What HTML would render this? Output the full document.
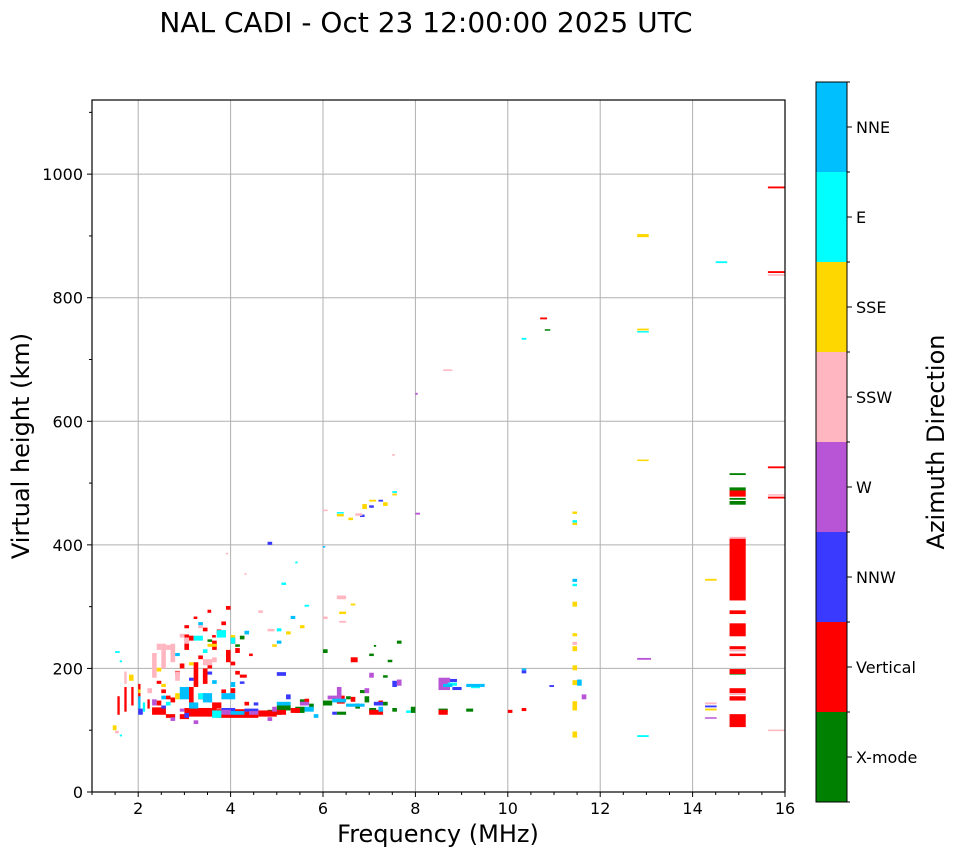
<!DOCTYPE html>
<html><head><meta charset="utf-8">
<style>
html,body{margin:0;padding:0;background:#fff;}
svg{display:block;font-family:"DejaVu Sans","Liberation Sans",sans-serif;}
</style></head>
<body>
<svg id="chart" width="958" height="857" viewBox="0 0 958 857" xmlns="http://www.w3.org/2000/svg">
<text x="426" y="32" font-size="28" text-anchor="middle">NAL CADI - Oct 23 12:00:00 2025 UTC</text>
<g id="grid"></g>
<g id="marks"></g>
<rect x="92" y="100" width="693" height="692" fill="none" stroke="#000" stroke-width="1.2"/>
<g id="axes"></g>
<text x="438" y="842" font-size="24" text-anchor="middle">Frequency (MHz)</text>
<text x="0" y="0" font-size="24" text-anchor="middle" transform="translate(29,446) rotate(-90)">Virtual height (km)</text>
<g id="cbar"></g>
<text x="0" y="0" font-size="24" text-anchor="middle" transform="translate(944,442) rotate(-90)">Azimuth Direction</text>
</svg>
<script>
const xTicks = [2,4,6,8,10,12,14,16];
const yTicks = [0,200,400,600,800,1000];
const directions = ["X-mode","Vertical","NNW","W","SSW","SSE","E","NNE"];
const dirColors = ["#008000","#ff0000","#3a3aff","#b855d6","#ffb6c1","#ffd700","#00ffff","#00bfff"];
// points: [freq MHz, height km, freqSpan MHz, heightSpan km]
const xmodePts = [[4.8,125,0.3,8],[5.0,132,0.3,8],[5.4,128,0.2,10],[5.7,135,0.1,8],[6.0,140,0.2,8],[6.3,125,0.2,5],[6.7,135,0.1,8],[6.9,145,0.1,10],[7.0,128,0.15,8],[7.3,140,0.1,6],[7.5,130,0.1,6],[7.9,128,0.1,10],[8.5,130,0.2,5],[9.1,130,0.15,5],[6.0,225,0.1,6],[7.1,235,0.05,3],[7.6,240,0.1,5],[7.0,220,0.1,4],[7.4,210,0.1,4],[7.3,185,0.1,4],[10.8,747,0.12,2],[4.2,247,0.1,6],[3.5,243,0.1,4],[14.8,513,0.35,3],[14.8,488,0.35,5],[14.8,473,0.35,3],[14.8,465,0.35,6],[14.8,190,0.35,3],[5.5,145,0.1,5],[6.5,150,0.1,5],[4.1,235,0.1,4],[6.8,160,0.1,5]];
const verticalPts = [[2.3,125,0.3,12],[2.4,140,0.1,8],[2.6,150,0.1,6],[2.9,118,0.2,8],[3.0,122,0.7,14],[3.1,140,0.1,30],[3.4,175,0.1,25],[3.7,120,0.9,14],[3.6,135,0.2,10],[4.0,160,0.1,8],[4.1,190,0.1,6],[4.6,122,0.4,10],[5.0,125,0.2,8],[5.3,128,0.2,8],[6.3,143,0.17,13],[6.6,146,0.1,8],[7.0,125,0.3,8],[7.2,140,0.1,8],[1.55,125,0.05,30],[1.7,130,0.05,40],[1.85,140,0.05,30],[2.0,150,0.05,25],[2.2,135,0.05,15],[2.9,200,0.1,8],[3.0,230,0.1,25],[3.1,245,0.1,8],[3.2,170,0.1,40],[3.3,215,0.1,6],[3.4,260,0.1,6],[3.5,200,0.1,6],[3.6,230,0.1,15],[3.7,255,0.1,8],[3.8,270,0.1,6],[3.9,210,0.1,20],[4.0,240,0.1,10],[4.1,225,0.1,8],[3.9,295,0.1,6],[3.5,290,0.08,5],[4.2,185,0.15,5],[2.8,190,0.1,6],[3.0,265,0.1,5],[6.6,210,0.15,8],[8.5,125,0.2,8],[10.0,128,0.1,5],[10.3,131,0.1,5],[10.7,765,0.15,3],[14.8,310,0.35,100],[14.8,288,0.35,6],[14.8,252,0.35,21],[14.8,231,0.35,5],[14.8,220,0.35,4],[14.8,191,0.35,8],[14.8,160,0.35,8],[14.8,148,0.35,7],[14.8,105,0.35,21],[14.8,478,0.35,10],[15.63,977,0.37,3],[15.63,840,0.37,3],[15.63,524,0.37,3],[15.63,475,0.37,3],[2.5,160,0.1,6],[2.7,145,0.1,8],[3.3,150,0.1,8],[3.8,160,0.1,6],[4.3,140,0.1,6],[2.6,120,0.2,6],[3.2,280,0.08,4],[3.6,250,0.08,4],[4.4,220,0.08,4],[5.6,145,0.1,6],[4.0,205,0.1,6],[2.4,175,0.1,5]];
const nnwPts = [[4.8,400,0.1,5],[7.0,460,0.1,4],[7.2,470,0.1,3],[6.8,445,0.1,4],[8.7,178,0.2,5],[8.8,165,0.2,5],[10.3,192,0.1,5],[10.9,170,0.1,3],[14.27,137,0.25,3],[3.0,120,0.1,8],[3.8,130,0.3,6],[4.3,130,0.3,5],[5.0,188,0.2,6],[5.2,150,0.1,8],[6.2,125,0.1,5],[7.1,140,0.2,6],[7.5,170,0.1,10],[2.0,125,0.1,10],[3.5,190,0.1,5],[4.5,140,0.1,5],[3.1,180,0.1,5],[2.5,135,0.1,5],[4.2,175,0.1,4]];
const wPts = [[8.5,165,0.25,20],[12.8,214,0.3,3],[8.0,643,0.05,3],[8.0,449,0.1,3],[7.6,172,0.1,10],[7.0,185,0.1,8],[6.3,150,0.1,20],[5.5,140,0.2,6],[4.9,130,0.1,8],[4.4,125,0.2,6],[2.7,115,0.1,6],[3.2,110,0.1,6],[2.3,140,0.1,10],[14.27,119,0.25,2],[11.6,150,0.1,8],[6.1,150,0.2,6],[6.9,160,0.1,8],[3.8,125,0.2,8],[4.8,115,0.1,6],[2.9,130,0.1,5],[3.5,145,0.1,5]];
const sswPts = [[2.3,185,0.1,40],[2.5,200,0.1,40],[2.6,230,0.1,8],[2.8,180,0.1,15],[3.4,205,0.2,10],[3.0,240,0.1,10],[1.7,175,0.05,20],[3.9,385,0.05,2],[4.3,352,0.05,2],[4.6,290,0.1,4],[6.3,312,0.2,6],[6.35,274,0.15,3],[6.0,280,0.1,4],[7.5,544,0.05,3],[8.6,682,0.2,2],[6.7,447,0.15,4],[6.0,455,0.1,2],[14.27,142,0.25,3],[14.8,410,0.35,3],[14.8,228,0.35,2],[14.8,157,0.35,3],[15.63,480,0.37,2],[15.63,99,0.37,2],[15.63,836,0.37,2],[11.4,238,0.1,5],[5.1,140,0.1,4],[4.8,260,0.15,4],[2.7,210,0.1,30],[2.4,230,0.1,10],[1.5,95,0.08,4],[2.2,160,0.1,8],[2.9,250,0.1,6],[3.6,210,0.1,8],[3.3,265,0.1,5]];
const ssePts = [[12.8,898,0.25,5],[12.8,747,0.25,3],[12.8,536,0.25,2],[14.27,342,0.25,3],[14.27,132,0.25,3],[11.4,450,0.1,4],[11.4,432,0.1,4],[11.4,300,0.1,8],[11.4,252,0.1,5],[11.4,228,0.1,8],[11.4,197,0.1,8],[11.4,173,0.1,8],[11.4,132,0.1,15],[11.4,88,0.1,10],[1.45,100,0.08,8],[1.8,180,0.1,10],[2.0,160,0.05,6],[2.4,195,0.1,6],[2.8,150,0.1,10],[3.5,235,0.2,5],[4.0,250,0.1,4],[5.2,255,0.1,5],[5.5,265,0.1,5],[6.35,288,0.15,4],[6.6,302,0.1,3],[6.85,458,0.1,8],[7.0,470,0.15,3],[6.55,440,0.1,4],[7.3,463,0.1,6],[6.3,446,0.15,4],[4.9,235,0.1,4],[7.5,480,0.1,3],[3.1,205,0.1,5],[2.5,170,0.1,5]];
const ePts = [[1.5,225,0.1,3],[1.6,210,0.05,3],[3.0,160,0.1,10],[3.3,150,0.2,10],[3.6,120,0.2,12],[4.0,240,0.1,10],[3.7,250,0.2,12],[3.2,245,0.2,8],[5.1,335,0.1,4],[5.4,370,0.05,3],[5.0,260,0.1,5],[5.6,300,0.1,3],[6.3,451,0.15,2],[7.5,484,0.1,3],[10.3,732,0.1,3],[12.8,744,0.25,2],[12.8,89,0.25,3],[14.5,856,0.25,3],[11.4,436,0.1,4],[11.4,333,0.1,4],[8.7,172,0.2,5],[9.2,168,0.2,4],[7.8,128,0.1,4],[2.1,130,0.05,15],[1.6,90,0.05,3],[2.6,140,0.1,6],[3.4,225,0.1,6]];
const nnePts = [[2.9,150,0.2,20],[3.1,135,0.2,10],[3.4,145,0.2,15],[3.8,150,0.3,10],[4.0,170,0.1,8],[5.0,140,0.3,6],[5.6,130,0.2,8],[6.2,145,0.3,6],[6.5,138,0.4,5],[7.2,130,0.1,8],[8.6,170,0.2,5],[9.1,170,0.3,5],[9.4,170,0.1,5],[11.5,172,0.1,10],[11.4,340,0.1,5],[2.5,150,0.1,6],[2.0,135,0.05,20],[3.3,270,0.1,5],[4.3,255,0.1,6],[5.3,280,0.1,5],[5.0,240,0.1,5],[6.0,396,0.05,2],[10.3,197,0.1,3],[4.0,125,0.3,6],[5.8,120,0.1,6],[2.8,220,0.1,5],[3.6,175,0.1,6]];
const seriesPts = [xmodePts, verticalPts, nnwPts, wPts, sswPts, ssePts, ePts, nnePts];

const NS = "http://www.w3.org/2000/svg";
const X0 = 92, X1 = 785, Y0 = 792, Y1 = 100;
const fMin = 1, fMax = 16, hMin = 0, hMax = 1120;
function xs(f){ return X0 + (f - fMin) / (fMax - fMin) * (X1 - X0); }
function ys(h){ return Y0 - (h - hMin) / (hMax - hMin) * (Y0 - Y1); }
function mk(tag, attrs, parent){ const e = document.createElementNS(NS, tag); for (const k in attrs) e.setAttribute(k, attrs[k]); parent.appendChild(e); return e; }

const grid = document.getElementById('grid');
const axes = document.getElementById('axes');
xTicks.forEach(t => {
  const x = xs(t);
  if (t < fMax) {
    const g = mk('line', {x1:x, x2:x, y1:Y1, y2:Y0, stroke:'#b0b0b0', 'stroke-width':1}, grid);
    
    
  }
  mk('line', {x1:x, x2:x, y1:Y0, y2:Y0+5, stroke:'#000'}, axes);
  const lb = mk('text', {x:x, y:Y0+22, 'font-size':16, 'text-anchor':'middle'}, axes);
  lb.textContent = t;
  
  
});
for (let m = 1.5; m < fMax; m += 1) {
  const x = xs(m);
  mk('line', {x1:x, x2:x, y1:Y0, y2:Y0+3, stroke:'#000'}, axes);
}
for (let m = 1; m < fMax; m += 2) {
  const x = xs(m);
  mk('line', {x1:x, x2:x, y1:Y0, y2:Y0+3, stroke:'#000'}, axes);
}
yTicks.forEach(t => {
  const y = ys(t);
  if (t > 0) {
    const g = mk('line', {x1:X0, x2:X1, y1:y, y2:y, stroke:'#b0b0b0', 'stroke-width':1}, grid);
    
    
  }
  mk('line', {x1:X0-5, x2:X0, y1:y, y2:y, stroke:'#000'}, axes);
  const lb = mk('text', {x:X0-9, y:y+6, 'font-size':16, 'text-anchor':'end'}, axes);
  lb.textContent = t;
  
  
});
for (let m = 100; m < hMax; m += 200) {
  const y = ys(m);
  mk('line', {x1:X0-3, x2:X0, y1:y, y2:y, stroke:'#000'}, axes);
}

const marks = document.getElementById('marks');
seriesPts.forEach((pts, si) => {
  pts.forEach(p => {
    const df = p[2] || 0.1, dh = p[3] || 6;
    const x = xs(p[0]), w = xs(p[0] + df) - x;
    const yTop = ys(p[1] + dh), hgt = ys(p[1]) - yTop;
    const r = mk('rect', {x:x, y:yTop, width:Math.max(w,1), height:Math.max(hgt,1.5), fill:dirColors[si]}, marks);
    
    
  });
});

const cbar = document.getElementById('cbar');
const CX = 816, CW = 31, CT = 82, CB = 802;
const segH = (CB - CT) / directions.length;
directions.forEach((d, i) => {
  const yTop = CB - (i + 1) * segH;
  const r = mk('rect', {x:CX, y:yTop, width:CW, height:segH, fill:dirColors[i]}, cbar);
  
  
  const yc = yTop + segH / 2;
  mk('line', {x1:CX+CW, x2:CX+CW+5, y1:yc, y2:yc, stroke:'#000'}, cbar);
  const lb = mk('text', {x:CX+CW+9, y:yc+6, 'font-size':16}, cbar);
  lb.textContent = d;
  
  
});
for (let i = 0; i <= directions.length; i++) {
  const y = CT + i * segH;
  mk('line', {x1:CX+CW, x2:CX+CW+3, y1:y, y2:y, stroke:'#000'}, cbar);
}
mk('rect', {x:CX, y:CT, width:CW, height:CB-CT, fill:'none', stroke:'#000', 'stroke-width':1}, cbar);
</script>
</body></html>
